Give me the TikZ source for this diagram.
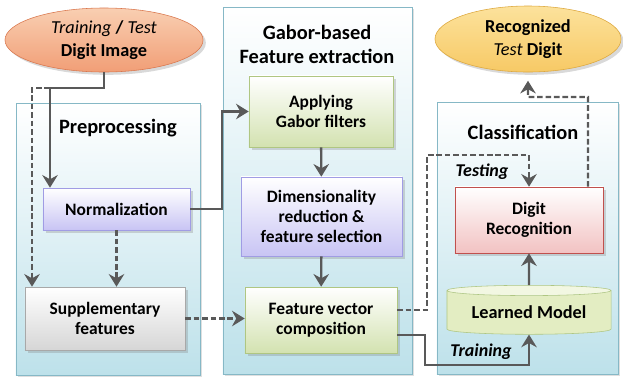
\documentclass[tikz,border=0pt]{standalone}
\usepackage{fontspec}
\setmainfont{Carlito}
\usetikzlibrary{calc,shadows,shapes.geometric,arrows.meta}

\definecolor{framecol}{HTML}{86B8C6}
\definecolor{framebot}{HTML}{BDE1EA}
\definecolor{linecol}{HTML}{595959}
\definecolor{lavbot}{HTML}{C8C4F4}
\definecolor{lavline}{HTML}{A09CE4}
\definecolor{grnbot}{HTML}{D3E2B0}
\definecolor{grnline}{HTML}{AFC682}
\definecolor{graybot}{HTML}{D6D6D6}
\definecolor{grayline}{HTML}{A8A8A8}
\definecolor{pinkbot}{HTML}{F2C2C2}
\definecolor{pinkline}{HTML}{C0504D}
\definecolor{ortop}{HTML}{F9CFB2}
\definecolor{orbot}{HTML}{F19E76}
\definecolor{orline}{HTML}{D9774E}
\definecolor{yeltop}{HTML}{FCE29C}
\definecolor{yelbot}{HTML}{F7C965}
\definecolor{yelline}{HTML}{DDA83E}
\definecolor{modelbody}{HTML}{E3EDC2}
\definecolor{modelend}{HTML}{F2F7E2}

\begin{document}
\begin{tikzpicture}[x=0.025cm,y=-0.025cm,
    stage/.style={draw=framecol,top color=white,bottom color=framebot,
                  drop shadow={shadow xshift=1.5pt,shadow yshift=-1.5pt,opacity=0.25}},
    stage title/.style={font=\bfseries\fontsize{14.5}{17}\selectfont,align=center},
    block/.style={draw,top color=white,align=center,inner sep=0pt,
                  font=\bfseries\fontsize{12.4}{14}\selectfont,
                  drop shadow={shadow xshift=2pt,shadow yshift=-2pt,opacity=0.3}},
    lav block/.style={block,draw=lavline,bottom color=lavbot},
    grn block/.style={block,draw=grnline,bottom color=grnbot},
    gray block/.style={block,draw=grayline,bottom color=graybot},
    pink block/.style={block,draw=pinkline,bottom color=pinkbot},
    terminal/.style={ellipse,inner sep=0pt,align=center,
                     font=\bfseries\fontsize{13}{16}\selectfont,
                     drop shadow={shadow xshift=2pt,shadow yshift=-2pt,opacity=0.3}},
    flow/.style={draw=linecol,line width=1.7pt,-{Stealth[length=9pt,width=11pt,inset=3pt]}},
    dflow/.style={flow,dash pattern=on 4pt off 2pt},
    path label/.style={font=\bfseries\itshape\fontsize{12.8}{15}\selectfont}]

    \useasboundingbox (0,0) rectangle (623,377);

    % stage frames
    \node[stage,minimum width=4.6cm,minimum height=6.8cm] (prep) at (108,239) {};
    \node[stage,minimum width=4.725cm,minimum height=9.175cm] (gab) at (317.5,190.5) {};
    \node[stage,minimum width=4.525cm,minimum height=6.8cm] (cls) at (527.5,238) {};
    \node[stage title] at (118,128) {Preprocessing};
    \node[stage title] at (317,44) {Gabor-based\\Feature extraction};
    \node[stage title] at (523,132) {Classification};

    % input and output
    \node[terminal,draw=orline,top color=ortop,bottom color=orbot,
          minimum width=4.95cm,minimum height=1.6cm] (imgin) at (104,40)
          {{\mdseries\itshape Training} \textbf{/} {\mdseries\itshape Test}\\Digit Image};
    \node[terminal,draw=yelline,top color=yeltop,bottom color=yelbot,
          minimum width=4.65cm,minimum height=1.65cm] (result) at (528,39)
          {Recognized\\{\mdseries\itshape Test} Digit};

    % blocks
    \node[lav block,minimum width=3.675cm,minimum height=1.05cm] (norm) at (116.5,209) {Normalization};
    \node[gray block,minimum width=4cm,minimum height=1.575cm] (supp) at (105,318.5) {Supplementary\\features};
    \node[grn block,minimum width=3.6cm,minimum height=1.775cm] (gabor) at (321,111.5) {Applying\\Gabor filters};
    \node[lav block,minimum width=4.025cm,minimum height=1.975cm] (dimred) at (321.5,216.5) {Dimensionality\\reduction \&\\feature selection};
    \node[grn block,minimum width=3.8cm,minimum height=1.65cm] (fvec) at (321,320) {Feature vector\\composition};
    \node[pink block,minimum width=3.7cm,minimum height=1.65cm] (recog) at (529,220) {Digit\\Recognition};
    \node[cylinder,shape border rotate=90,aspect=0.09,draw=grnline,
          cylinder uses custom fill,cylinder body fill=modelbody,cylinder end fill=modelend,
          minimum width=4.1cm,minimum height=1.225cm,inner sep=0pt,
          font=\bfseries\fontsize{13}{16}\selectfont] (model) at (529,312.5) {Learned Model};

    % turning points
    \coordinate (split) at (50,88);
    \coordinate (split2) at (32,88);
    \coordinate (tst) at (427,155);
    \coordinate (trn) at (425,365);
    \coordinate (out) at (588,97);

    % connectors
    \draw[flow] (imgin.south) |- (split) -- (split |- norm.north);
    \draw[dflow] (split) -- (split2) -- (split2 |- supp.north);
    \draw[dflow] (norm.south) -- (norm.south |- supp.north);
    \draw[flow] (norm.east) -- ++(32,0) |- (gabor.west);
    \draw[flow] (gabor) -- (dimred);
    \draw[flow] (dimred) -- (fvec);
    \draw[dflow] (supp.east) -- (supp.east -| fvec.west);
    \draw[dflow] ([yshift=0.25cm]fvec.east) -| (tst) -| (recog.north);
    \draw[flow] ([yshift=-0.375cm]fvec.east) -| (trn) -| (model.south);
    \draw[flow] (model) -- (recog);
    \draw[dflow,shorten >=6pt] ([xshift=1.475cm]recog.north) -- (out) -| (result.south);
    \node[path label] at (482,172) {Testing};
    \node[path label] at (481,352) {Training};

\end{tikzpicture}
\end{document}
